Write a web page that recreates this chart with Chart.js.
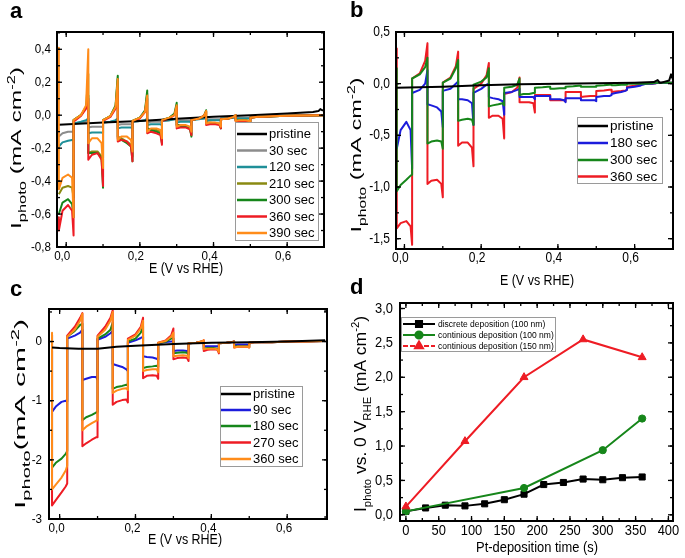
<!DOCTYPE html>
<html>
<head>
<meta charset="utf-8">
<script src="https://cdn.jsdelivr.net/npm/chart.js@4.4.0/dist/chart.umd.min.js"></script>
<style>
  body { margin: 0; background: #fff; }
  #page { position: relative; width: 685px; height: 558px; overflow: hidden; }
  canvas { position: absolute; }
  .tag { position: absolute; font: bold 22px 'Liberation Sans', Arial, sans-serif; line-height: 22px; }
</style>
</head>
<body>
<div id="page">
  <canvas id="chart-a" width="342" height="280" style="left:0;top:0"></canvas>
  <canvas id="chart-b" width="343" height="295" style="left:342px;top:0"></canvas>
  <canvas id="chart-c" width="342" height="278" style="left:0;top:280px"></canvas>
  <canvas id="chart-d" width="343" height="278" style="left:342px;top:280px"></canvas>
  <div class="tag" style="left:10px;top:0">a</div>
  <div class="tag" style="left:350px;top:-1px">b</div>
  <div class="tag" style="left:10px;top:278px">c</div>
  <div class="tag" style="left:350px;top:276px">d</div>
</div>
<script>
// potential grid of the chopped scans, -0.02 .. 0.54 V plus tail (panels a, c)
const gridA = [
  -0.02, -0.02, -0.01, 0.005, 0.016, 0.02, 0.02, 0.04, 0.054,
  0.06, 0.06, 0.07, 0.085, 0.096, 0.10, 0.10, 0.12, 0.134,
  0.14, 0.14, 0.15, 0.165, 0.176, 0.18, 0.18, 0.20, 0.214,
  0.22, 0.22, 0.23, 0.245, 0.256, 0.26, 0.26, 0.28, 0.294,
  0.30, 0.30, 0.31, 0.325, 0.336, 0.34, 0.34, 0.36, 0.374,
  0.38, 0.38, 0.39, 0.405, 0.416, 0.42, 0.42, 0.44, 0.454,
  0.46, 0.46, 0.47, 0.485, 0.496, 0.50, 0.50, 0.52, 0.534,
  0.56, 0.60, 0.65, 0.70
];
// same grid, carried on to 0.70 V (panel b)
const gridB = [
  -0.02, -0.02, -0.01, 0.005, 0.016, 0.02, 0.02, 0.04, 0.054,
  0.06, 0.06, 0.07, 0.085, 0.096, 0.10, 0.10, 0.12, 0.134,
  0.14, 0.14, 0.15, 0.165, 0.176, 0.18, 0.18, 0.20, 0.214,
  0.22, 0.22, 0.23, 0.245, 0.256, 0.26, 0.26, 0.28, 0.294,
  0.30, 0.30, 0.31, 0.325, 0.336, 0.34, 0.34, 0.36, 0.374,
  0.38, 0.38, 0.39, 0.405, 0.416, 0.42, 0.42, 0.44, 0.454,
  0.46, 0.46, 0.47, 0.485, 0.496, 0.50, 0.50, 0.52, 0.534,
  0.54, 0.54, 0.55, 0.565, 0.576, 0.58, 0.58, 0.60, 0.614,
  0.62, 0.62, 0.63, 0.645, 0.656, 0.66, 0.66, 0.68, 0.694,
  0.70
];

// ---- panel a ----
const pristineAE = [-0.02, 0.10, 0.20, 0.30, 0.40, 0.50, 0.60, 0.67, 0.685, 0.69, 0.695, 0.70];
const pristineAI = [-0.058, -0.045, -0.035, -0.022, -0.01, 0.0, 0.01, 0.02, 0.025, 0.037, 0.03, 0.03];
const a30 = [
  -0.13, -0.13, -0.11, -0.10, -0.10, -0.10, -0.05, -0.045, -0.04,
  -0.03, -0.075, -0.07, -0.07, -0.07, -0.075, -0.045, -0.04, -0.035,
  -0.03, -0.06, -0.055, -0.055, -0.055, -0.06, -0.04, -0.035, -0.03,
  -0.025, -0.045, -0.04, -0.04, -0.04, -0.045, -0.035, -0.03, -0.025,
  -0.02, -0.035, -0.03, -0.03, -0.03, -0.035, -0.025, -0.02, -0.02,
  -0.015, -0.025, -0.025, -0.025, -0.025, -0.025, -0.02, -0.015, -0.015,
  -0.01, -0.015, -0.015, -0.015, -0.015, -0.015, -0.01, -0.01, -0.01,
  -0.006, -0.004, -0.002, 0.0
];
const a120 = [
  -0.19, -0.19, -0.165, -0.155, -0.15, -0.15, -0.05, -0.04, -0.03,
  -0.02, -0.11, -0.105, -0.105, -0.105, -0.11, -0.045, -0.04, -0.03,
  -0.02, -0.08, -0.075, -0.075, -0.075, -0.08, -0.04, -0.035, -0.03,
  -0.02, -0.06, -0.055, -0.055, -0.055, -0.06, -0.035, -0.03, -0.025,
  -0.02, -0.045, -0.04, -0.04, -0.04, -0.045, -0.03, -0.025, -0.02,
  -0.015, -0.035, -0.03, -0.03, -0.03, -0.035, -0.02, -0.02, -0.015,
  -0.01, -0.02, -0.02, -0.02, -0.02, -0.02, -0.012, -0.01, -0.01,
  -0.006, -0.004, -0.002, 0.0
];
const a210 = [
  -0.48, -0.48, -0.44, -0.43, -0.44, -0.50, -0.03, 0.0, 0.05,
  0.25, -0.23, -0.22, -0.22, -0.25, -0.38, -0.03, -0.005, 0.05,
  0.22, -0.13, -0.14, -0.16, -0.18, -0.25, -0.035, -0.015, 0.02,
  0.13, -0.08, -0.085, -0.09, -0.10, -0.15, -0.03, -0.015, 0.005,
  0.06, -0.06, -0.06, -0.065, -0.075, -0.12, -0.03, -0.02, -0.005,
  0.025, -0.045, -0.045, -0.05, -0.05, -0.075, -0.025, -0.02, -0.01,
  0.0, -0.03, -0.03, -0.03, -0.035, -0.04, -0.015, -0.01, -0.01,
  -0.006, -0.004, -0.002, 0.0
];
const a300 = [
  -0.60, -0.60, -0.53, -0.51, -0.54, -0.62, -0.03, 0.0, 0.05,
  0.12, -0.23, -0.23, -0.23, -0.26, -0.44, -0.03, -0.005, 0.06,
  0.24, -0.14, -0.15, -0.17, -0.19, -0.28, -0.035, -0.015, 0.03,
  0.15, -0.08, -0.09, -0.10, -0.11, -0.17, -0.03, -0.015, 0.01,
  0.075, -0.06, -0.065, -0.07, -0.08, -0.13, -0.03, -0.02, -0.005,
  0.03, -0.045, -0.05, -0.05, -0.055, -0.08, -0.025, -0.02, -0.01,
  0.0, -0.03, -0.03, -0.03, -0.035, -0.045, -0.015, -0.01, -0.01,
  -0.006, -0.004, -0.002, 0.0
];
const a360 = [
  -0.62, -0.70, -0.58, -0.545, -0.58, -0.73, -0.04, -0.005, 0.04,
  0.10, -0.27, -0.24, -0.23, -0.27, -0.43, -0.035, -0.01, 0.04,
  0.15, -0.16, -0.15, -0.16, -0.19, -0.28, -0.04, -0.02, 0.02,
  0.10, -0.11, -0.10, -0.11, -0.12, -0.18, -0.035, -0.02, 0.0,
  0.05, -0.08, -0.075, -0.075, -0.085, -0.12, -0.03, -0.02, -0.005,
  0.02, -0.06, -0.055, -0.055, -0.06, -0.08, -0.025, -0.02, -0.01,
  0.0, -0.035, -0.035, -0.035, -0.04, -0.045, -0.015, -0.01, -0.01,
  -0.006, -0.004, -0.002, 0.0
];
const a390 = [
  0.41, -0.45, -0.38, -0.36, -0.38, -0.62, -0.03, 0.0, 0.06,
  0.40, -0.17, -0.14, -0.14, -0.17, -0.32, -0.03, -0.005, 0.05,
  0.22, -0.15, -0.13, -0.13, -0.15, -0.22, -0.035, -0.015, 0.02,
  0.12, -0.10, -0.08, -0.08, -0.09, -0.14, -0.03, -0.015, 0.0,
  0.06, -0.07, -0.06, -0.06, -0.07, -0.10, -0.03, -0.02, -0.005,
  0.025, -0.05, -0.045, -0.045, -0.05, -0.07, -0.025, -0.02, -0.01,
  0.0, -0.035, -0.03, -0.03, -0.035, -0.04, -0.015, -0.01, -0.01,
  -0.006, -0.004, -0.002, 0.0
];

// ---- panel b ----
const pristineBE = [-0.02, 0.10, 0.20, 0.30, 0.40, 0.50, 0.60, 0.65, 0.66, 0.665, 0.67, 0.69, 0.695, 0.70];
const pristineBI = [-0.04, -0.03, -0.015, -0.005, 0.0, 0.005, 0.01, 0.015, 0.035, 0.01, 0.01, 0.03, 0.09, 0.04];
const b180 = [
  -0.63, -0.63, -0.45, -0.37, -0.45, -0.82, -0.09, -0.06, 0.0,
  0.13, -0.20, -0.21, -0.23, -0.27, -0.42, -0.07, -0.05, 0.0,
  0.02, -0.15, -0.15, -0.16, -0.19, -0.40, -0.09, -0.05, -0.01,
  0.0, -0.13, -0.14, -0.15, -0.17, -0.30, -0.09, -0.08, -0.06,
  -0.05, -0.13, -0.13, -0.13, -0.13, -0.15, -0.12, -0.12, -0.12,
  -0.12, -0.15, -0.15, -0.15, -0.16, -0.18, -0.14, -0.14, -0.14,
  -0.14, -0.16, -0.16, -0.16, -0.16, -0.17, -0.13, -0.12, -0.12,
  -0.11, -0.10, -0.09, -0.08, -0.07, -0.06, -0.04, -0.03, -0.02,
  -0.01, -0.01, 0.0, 0.0, 0.005, 0.01, 0.01, 0.01, 0.01,
  0.01
];
const b300 = [
  0.15, -1.04, -0.98, -0.93, -0.89, -0.88, 0.05, 0.09, 0.16,
  0.25, -0.58, -0.56, -0.55, -0.56, -0.63, 0.01, 0.05, 0.15,
  0.23, -0.36, -0.35, -0.34, -0.35, -0.40, -0.01, 0.02, 0.06,
  0.15, -0.22, -0.21, -0.20, -0.19, -0.21, -0.04, -0.03, -0.01,
  0.05, -0.11, -0.10, -0.10, -0.09, -0.09, -0.04, -0.035, -0.03,
  -0.03, -0.05, -0.05, -0.045, -0.045, -0.045, -0.03, -0.025, -0.02,
  -0.02, -0.03, -0.03, -0.03, -0.03, -0.03, -0.02, -0.015, -0.01,
  -0.01, -0.015, -0.015, -0.01, -0.01, -0.01, 0.0, 0.0, 0.0,
  0.0, 0.0, 0.0, 0.005, 0.01, 0.01, 0.01, 0.01, 0.01,
  0.01
];
const b360 = [
  0.34, -1.40, -1.35, -1.33, -1.38, -1.56, 0.05, 0.10, 0.22,
  0.39, -0.97, -0.94, -0.93, -0.97, -1.10, 0.01, 0.06, 0.17,
  0.31, -0.60, -0.57, -0.57, -0.62, -0.80, -0.05, 0.0, 0.08,
  0.20, -0.33, -0.31, -0.31, -0.34, -0.53, -0.10, -0.08, -0.04,
  0.06, -0.18, -0.18, -0.18, -0.19, -0.28, -0.11, -0.11, -0.11,
  -0.11, -0.16, -0.16, -0.16, -0.16, -0.17, -0.08, -0.08, -0.08,
  -0.08, -0.13, -0.125, -0.12, -0.12, -0.12, -0.07, -0.065, -0.06,
  -0.06, -0.08, -0.075, -0.07, -0.065, -0.06, -0.03, -0.02, -0.01,
  -0.005, -0.005, 0.0, 0.0, 0.005, 0.01, 0.01, 0.01, 0.01,
  0.01
];

// ---- panel c ----
const pristineCE = [-0.02, 0.0, 0.05, 0.10, 0.15, 0.20, 0.30, 0.40, 0.50, 0.60, 0.70];
const pristineCI = [-0.10, -0.11, -0.12, -0.12, -0.09, -0.07, -0.04, -0.02, -0.01, 0.0, 0.02];
const c90 = [
  -0.15, -1.19, -1.10, -1.02, -1.00, -1.02, 0.05, 0.10, 0.15,
  0.20, -0.65, -0.63, -0.60, -0.60, -0.64, 0.03, 0.08, 0.14,
  0.18, -0.38, -0.40, -0.43, -0.47, -0.50, -0.02, 0.02, 0.06,
  0.08, -0.25, -0.26, -0.27, -0.29, -0.31, -0.03, -0.01, 0.0,
  0.0, -0.16, -0.15, -0.15, -0.16, -0.17, -0.03, -0.02, -0.01,
  0.0, -0.08, -0.08, -0.08, -0.08, -0.09, -0.03, -0.02, -0.01,
  0.0, -0.06, -0.05, -0.05, -0.05, -0.05, -0.02, -0.01, -0.01,
  -0.01, 0.0, 0.0, 0.01
];
const c180 = [
  0.12, -2.13, -2.05, -1.98, -1.90, -1.85, 0.08, 0.18, 0.28,
  0.30, -1.33, -1.28, -1.24, -1.20, -1.19, 0.05, 0.12, 0.20,
  0.32, -0.80, -0.77, -0.75, -0.73, -0.74, 0.0, 0.05, 0.15,
  0.26, -0.45, -0.43, -0.42, -0.41, -0.43, -0.03, 0.0, 0.05,
  0.05, -0.20, -0.19, -0.18, -0.19, -0.22, -0.03, -0.02, 0.0,
  0.0, -0.12, -0.11, -0.11, -0.12, -0.15, -0.03, -0.02, -0.01,
  0.0, -0.08, -0.08, -0.08, -0.08, -0.09, -0.02, -0.01, -0.01,
  -0.01, 0.0, 0.0, 0.01
];
const c270 = [
  0.12, -2.77, -2.68, -2.55, -2.45, -2.40, 0.10, 0.25, 0.40,
  0.48, -1.77, -1.72, -1.66, -1.62, -1.62, 0.10, 0.25, 0.40,
  0.53, -1.07, -1.02, -0.99, -0.98, -1.03, 0.05, 0.12, 0.25,
  0.40, -0.62, -0.58, -0.57, -0.58, -0.63, -0.02, 0.02, 0.10,
  0.22, -0.30, -0.28, -0.27, -0.28, -0.33, -0.03, -0.02, 0.0,
  0.02, -0.16, -0.14, -0.13, -0.14, -0.20, -0.03, -0.02, -0.01,
  0.0, -0.10, -0.09, -0.09, -0.09, -0.10, -0.02, -0.01, -0.01,
  -0.01, 0.0, 0.0, 0.01
];
const c360 = [
  0.15, -2.50, -2.42, -2.30, -2.18, -2.10, 0.08, 0.20, 0.35,
  0.47, -1.50, -1.44, -1.38, -1.34, -1.33, 0.08, 0.20, 0.35,
  0.50, -0.87, -0.83, -0.80, -0.79, -0.82, 0.03, 0.10, 0.22,
  0.35, -0.50, -0.48, -0.47, -0.47, -0.52, -0.02, 0.01, 0.08,
  0.15, -0.25, -0.24, -0.23, -0.24, -0.28, -0.03, -0.02, 0.0,
  0.02, -0.13, -0.12, -0.12, -0.13, -0.18, -0.03, -0.02, -0.01,
  0.0, -0.10, -0.09, -0.09, -0.09, -0.10, -0.02, -0.01, -0.01,
  -0.01, 0.0, 0.0, 0.01
];

// ---- panel d ----
const timeDiscrete = [0, 30, 60, 90, 120, 150, 180, 210, 240, 270, 300, 330, 360];
const discrete100 = [0.05, 0.10, 0.14, 0.13, 0.16, 0.22, 0.30, 0.44, 0.47, 0.52, 0.51, 0.54, 0.55];
const timeCont100 = [0, 180, 300, 360];
const continuous100 = [0.05, 0.39, 0.94, 1.40];
const timeCont150 = [0, 90, 180, 270, 360];
const continuous150 = [0.12, 1.07, 2.00, 2.55, 2.29];

// tick labels
const ticksEV = [0.0, 0.2, 0.4, 0.6];
const ticksAY = [-0.8, -0.6, -0.4, -0.2, 0.0, 0.2, 0.4];
const ticksBY = [-1.5, -1.0, -0.5, 0.0, 0.5];
const ticksCY = [-3, -2, -1, 0];
const ticksDY = [0.0, 0.5, 1.0, 1.5, 2.0, 2.5, 3.0];
const ticksDX = [0, 50, 100, 150, 200, 250, 300, 350, 400];

const FONT = "'Liberation Sans', Arial, sans-serif";
Chart.defaults.font.family = FONT;
Chart.defaults.color = '#000';

const xy = (xs, ys) => xs.map((x, i) => ({ x: x, y: ys[i] }));
const comma = (v, d) => v.toFixed(d).replace('.', ',');

function line(label, xs, ys, color, order) {
  return {
    label: label, data: xy(xs, ys), borderColor: color, backgroundColor: color,
    borderWidth: 2, pointRadius: 0, order: order, borderJoinStyle: 'round'
  };
}

// text squeezed horizontally, like the lettering of the scanned figure
function squeezed(ctx, text, x, y, align, cond) {
  ctx.save();
  ctx.translate(x, y);
  ctx.scale(cond, 1);
  ctx.textAlign = align;
  ctx.fillText(text, 0, 0);
  ctx.restore();
}

// draws a text made of plain / subscript / superscript pieces;
// len (optional) sets its length along the reading direction, cond squeezes it
function drawRich(ctx, parts, cx, cy, size, rotate, len, cond) {
  const fontFor = (k) => (k === 'n' ? size : Math.round(size * 0.66)) + 'px ' + FONT;
  let total = 0;
  parts.forEach(([t, k]) => { ctx.font = fontFor(k); total += ctx.measureText(t).width; });
  ctx.save();
  ctx.translate(cx, cy);
  if (rotate) ctx.rotate(-Math.PI / 2);
  if (len) ctx.scale(len / total, 1);
  else if (cond) ctx.scale(cond, 1);
  ctx.fillStyle = '#000';
  ctx.textAlign = 'left';
  ctx.textBaseline = 'alphabetic';
  let x = -total / 2;
  const base = size * 0.36;
  parts.forEach(([t, k]) => {
    ctx.font = fontFor(k);
    const dy = k === 'sub' ? size * 0.28 : (k === 'sup' ? -size * 0.42 : 0);
    ctx.fillText(t, x, base + dy);
    x += ctx.measureText(t).width;
  });
  ctx.restore();
}

// frame, inward ticks on all sides, tick labels, axis titles and the boxed legend
const decorate = {
  id: 'decorate',
  afterDatasetsDraw(chart, args, o) {
    const { ctx, chartArea: ca } = chart;
    const sx = chart.scales.x, sy = chart.scales.y;
    ctx.save();
    ctx.strokeStyle = '#000';
    ctx.lineWidth = 1.3;
    const seg = (x0, y0, x1, y1) => { ctx.beginPath(); ctx.moveTo(x0, y0); ctx.lineTo(x1, y1); ctx.stroke(); };
    [[o.xMinor, 3], [o.xMajor, 5]].forEach(([step, len]) => {
      for (let i = Math.ceil(sx.min / step - 1e-6); i * step <= sx.max + 1e-9; i++) {
        const p = sx.getPixelForValue(i * step);
        seg(p, ca.bottom, p, ca.bottom - len);
        seg(p, ca.top, p, ca.top + len);
      }
    });
    [[o.yMinor, 3], [o.yMajor, 5]].forEach(([step, len]) => {
      for (let i = Math.ceil(sy.min / step - 1e-6); i * step <= sy.max + 1e-9; i++) {
        const p = sy.getPixelForValue(i * step);
        seg(ca.left, p, ca.left + len, p);
        seg(ca.right, p, ca.right - len, p);
      }
    });
    ctx.lineWidth = 2;
    ctx.strokeRect(ca.left, ca.top, ca.right - ca.left, ca.bottom - ca.top);

    // tick labels
    ctx.fillStyle = '#000';
    ctx.font = o.tickSize + 'px ' + FONT;
    ctx.textBaseline = 'middle';
    o.xLabels.forEach((v) => squeezed(ctx, comma(v, o.xDec), sx.getPixelForValue(v) + o.xShift, o.xLabelY, 'center', o.cond));
    o.yLabels.forEach((v) => squeezed(ctx, comma(v, o.yDec), ca.left - o.yGap, sy.getPixelForValue(v), 'right', o.cond));

    drawRich(ctx, o.xTitle, o.xTitlePos[0], o.xTitlePos[1], o.xTitleSize, false, 0, o.cond);
    drawRich(ctx, o.yTitle, o.yTitlePos[0], o.yTitlePos[1], o.yTitleSize, true, o.yTitleLen);

    const L = o.legend;
    ctx.fillStyle = '#fff';
    ctx.fillRect(L.box[0], L.box[1], L.box[2] - L.box[0], L.box[3] - L.box[1]);
    ctx.strokeStyle = '#9a9a9a';
    ctx.lineWidth = 1;
    ctx.strokeRect(L.box[0] + 0.5, L.box[1] + 0.5, L.box[2] - L.box[0], L.box[3] - L.box[1]);
    ctx.font = L.font + 'px ' + FONT;
    ctx.textBaseline = 'middle';
    ctx.textAlign = 'left';
    chart.data.datasets.forEach((ds, i) => {
      const y = L.rows[i];
      ctx.strokeStyle = ds.borderColor;
      ctx.lineWidth = L.lineWidth;
      ctx.setLineDash(ds.legendDash || []);
      seg(L.line[0], y, L.line[1], y);
      ctx.setLineDash([]);
      if (ds.pointStyle && ds.pointRadius > 0) {
        Chart.helpers.drawPoint(ctx, { pointStyle: ds.pointStyle, radius: ds.pointRadius, borderWidth: 1 },
          (L.line[0] + L.line[1]) / 2, y);
        ctx.fillStyle = ds.borderColor;
        ctx.fill();
      }
      ctx.fillStyle = '#000';
      ctx.fillText(ds.label, L.textX, y + 0.5);
    });
    ctx.restore();
  }
};

function makeChart(id, datasets, sc, deco) {
  return new Chart(document.getElementById(id), {
    type: 'line',
    data: { datasets: datasets },
    options: {
      responsive: false,
      animation: false,
      events: [],
      layout: { padding: sc.pad },
      plugins: { legend: { display: false }, tooltip: { enabled: false }, decorate: deco },
      scales: {
        x: {
          type: 'linear', min: sc.x[0], max: sc.x[1],
          grid: { display: false, drawTicks: false }, border: { display: false },
          ticks: { display: false },
          afterFit: (s) => { s.height = sc.xh; }
        },
        y: {
          type: 'linear', min: sc.y[0], max: sc.y[1],
          grid: { display: false, drawTicks: false }, border: { display: false },
          ticks: { display: false },
          afterFit: (s) => { s.width = sc.yw; }
        }
      }
    },
    plugins: [decorate]
  });
}

const photoTitle = [['I', 'n'], ['photo', 'sub'], [' (mA cm', 'n'], ['-2', 'sup'], [')', 'n']];
const photoTitleC = [['I', 'n'], ['photo', 'sub'], ['(mA cm', 'n'], ['-2', 'sup'], [')', 'n']];
const eTitle = [['E (V vs RHE)', 'n']];

// panel a
makeChart('chart-a', [
  line('pristine', pristineAE, pristineAI, '#000000', 2),
  line('30 sec', gridA, a30, '#8c8c8c', 7),
  line('120 sec', gridA, a120, '#1f8f98', 6),
  line('210 sec', gridA, a210, '#8a8a12', 5),
  line('300 sec', gridA, a300, '#16861a', 4),
  line('360 sec', gridA, a360, '#ee1c24', 3),
  line('390 sec', gridA, a390, '#ff8c1a', 1)
], { pad: { left: 0, top: 32, right: 18, bottom: 0 }, x: [-0.025, 0.70], y: [-0.8, 0.505], xh: 33, yw: 57 },
{ xMajor: 0.2, xMinor: 0.1, yMajor: 0.2, yMinor: 0.1,
  xLabels: ticksEV, yLabels: ticksAY, xDec: 1, yDec: 1, tickSize: 13.5, cond: 0.86,
  xShift: -4, xLabelY: 256, yGap: 6,
  xTitle: eTitle, xTitlePos: [186, 268], xTitleSize: 14.5,
  yTitle: photoTitle, yTitlePos: [16, 148], yTitleSize: 15, yTitleLen: 162,
  legend: { box: [235, 122, 318, 240], rows: [134, 150.5, 167, 183.5, 200, 216.5, 233],
            line: [237, 267], textX: 269, font: 13, lineWidth: 2.5 } });

// panel b
makeChart('chart-b', [
  line('pristine', pristineBE, pristineBI, '#000000', 1),
  line('180 sec', gridB, b180, '#1c1cdc', 3),
  line('300 sec', gridB, b300, '#16861a', 2),
  line('360 sec', gridB, b360, '#ee1c24', 4)
], { pad: { left: 0, top: 32, right: 12, bottom: 0 }, x: [-0.022, 0.70], y: [-1.6, 0.5], xh: 46, yw: 54 },
{ xMajor: 0.2, xMinor: 0.1, yMajor: 0.5, yMinor: 0.25,
  xLabels: ticksEV, yLabels: ticksBY, xDec: 1, yDec: 1, tickSize: 14, cond: 0.86,
  xShift: -4, xLabelY: 258, yGap: 6,
  xTitle: eTitle, xTitlePos: [195, 280], xTitleSize: 14.5,
  yTitle: photoTitle, yTitlePos: [14, 155], yTitleSize: 15, yTitleLen: 155,
  legend: { box: [235, 117, 320, 183], rows: [126, 143, 160, 176.5],
            line: [236, 266], textX: 268, font: 13.5, lineWidth: 2.5 } });

// panel c
makeChart('chart-c', [
  line('pristine', pristineCE, pristineCI, '#000000', 1),
  line('90 sec', gridA, c90, '#1c1cdc', 5),
  line('180 sec', gridA, c180, '#16861a', 4),
  line('270 sec', gridA, c270, '#ee1c24', 3),
  line('360 sec', gridA, c360, '#ff8c1a', 2)
], { pad: { left: 0, top: 29, right: 15, bottom: 0 }, x: [-0.028, 0.705], y: [-3, 0.55], xh: 39, yw: 49 },
{ xMajor: 0.2, xMinor: 0.1, yMajor: 1, yMinor: 0.5,
  xLabels: ticksEV, yLabels: ticksCY, xDec: 1, yDec: 0, tickSize: 13.5, cond: 0.86,
  xShift: -3, xLabelY: 248, yGap: 7,
  xTitle: eTitle, xTitlePos: [185, 259], xTitleSize: 14.5,
  yTitle: photoTitleC, yTitlePos: [20, 134], yTitleSize: 15, yTitleLen: 190,
  legend: { box: [220, 106, 302, 186], rows: [114, 130, 146, 162.5, 179],
            line: [221, 251], textX: 253, font: 13, lineWidth: 2.5 } });

// panel d
const marks = (label, xs, ys, color, style, r, order, dash) => ({
  label: label, data: xy(xs, ys), borderColor: color, backgroundColor: color,
  borderWidth: 2, pointStyle: style, pointRadius: r, pointBorderWidth: 1, order: order,
  legendDash: dash
});
makeChart('chart-d', [
  marks('discrete deposition (100 nm)', timeDiscrete, discrete100, '#000000', 'rect', 4.3, 3),
  marks('continious deposition (100 nm)', timeCont100, continuous100, '#16861a', 'circle', 3.6, 2),
  marks('continious deposition (150 nm)', timeCont150, continuous150, '#ee1c24', 'triangle', 4.6, 1, [5, 2])
], { pad: { left: 0, top: 23, right: 12, bottom: 0 }, x: [-9, 407], y: [-0.09, 3.08], xh: 37, yw: 58 },
{ xMajor: 50, xMinor: 25, yMajor: 0.5, yMinor: 0.25,
  xLabels: ticksDX, yLabels: ticksDY, xDec: 0, yDec: 1, tickSize: 15, cond: 0.86,
  xShift: 0, xLabelY: 251, yGap: 7,
  xTitle: [['Pt-deposition time (s)', 'n']], xTitlePos: [195, 267], xTitleSize: 15,
  yTitle: [['I', 'n'], ['photo', 'sub'], [' vs. 0 V', 'n'], ['RHE', 'sub'], [' (mA cm', 'n'], ['-2', 'sup'], [')', 'n']],
  yTitlePos: [18, 134], yTitleSize: 17, yTitleLen: 196,
  legend: { box: [59, 37, 213, 71], rows: [44, 55, 66],
            line: [61, 93], textX: 96, font: 8.5, lineWidth: 2 } });
</script>
</body>
</html>
